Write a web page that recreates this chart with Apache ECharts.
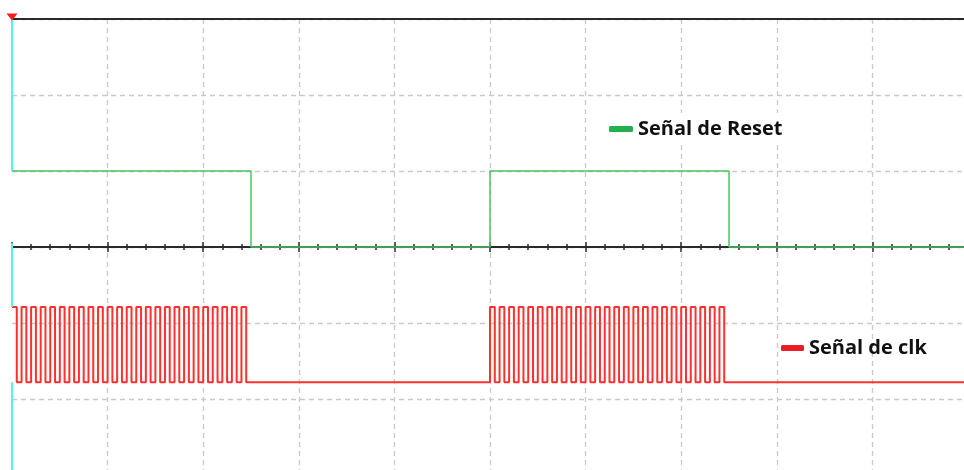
<!DOCTYPE html>
<html>
<head>
<meta charset="utf-8">
<script src="https://cdn.jsdelivr.net/npm/echarts@6/dist/echarts.min.js"></script>
<style>
  html, body { margin: 0; padding: 0; background: #ffffff; overflow: hidden; width: 964px; height: 470px; }
  /* the graticule runs slightly past the right and bottom edges of the screen */
  #scope { width: 968px; height: 475px; }
</style>
</head>
<body>
<div id="scope"></div>
<script>
// Time base: 10 horizontal divisions, 6 vertical divisions.
const timeRange = [0, 10];
const voltRange = [-3, 3];

// Reset trace: level changes (time in divisions, logic level).
const resetTimes  = [0, 2.5, 5, 7.5, 10];
const resetLevels = [1, 0, 1, 0, 0];

// Clock trace: logic level captured every clkSampleStep divisions
// (one row per division, 20 samples per row).
const clkSampleStep = 0.05;
const clkLevels = [
  1,0,1,0,1,0,1,0,1,0,1,0,1,0,1,0,1,0,1,0,
  1,0,1,0,1,0,1,0,1,0,1,0,1,0,1,0,1,0,1,0,
  1,0,1,0,1,0,1,0,1,0,0,0,0,0,0,0,0,0,0,0,
  0,0,0,0,0,0,0,0,0,0,0,0,0,0,0,0,0,0,0,0,
  0,0,0,0,0,0,0,0,0,0,0,0,0,0,0,0,0,0,0,0,
  1,0,1,0,1,0,1,0,1,0,1,0,1,0,1,0,1,0,1,0,
  1,0,1,0,1,0,1,0,1,0,1,0,1,0,1,0,1,0,1,0,
  1,0,1,0,1,0,1,0,1,0,0,0,0,0,0,0,0,0,0,0,
  0,0,0,0,0,0,0,0,0,0,0,0,0,0,0,0,0,0,0,0,
  0,0,0,0,0,0,0,0,0,0,0,0,0,0,0,0,0,0,0,0,
  0
];

// Legend names
const resetName = 'Señal de Reset';
const clkName = 'Señal de clk';

// Display placement of the clock trace (in divisions) below the center line.
const CLK_HIGH = -0.79;
const CLK_LOW = -1.78;

const resetData = resetTimes.map((t, i) => [t, resetLevels[i]]);
const clkData = clkLevels.map((v, i) => [i * clkSampleStep, v ? CLK_HIGH : CLK_LOW]);

const gridBox = { left: 12, top: 19, right: 0, bottom: 0 };
const dash = { color: '#c9c9c9', width: 1.3, type: [5, 4] };
const axisDark = { color: '#2a2a2a', width: 2 };

const chart = echarts.init(document.getElementById('scope'), null, { renderer: 'canvas' });

chart.setOption({
  animation: false,
  backgroundColor: '#ffffff',
  grid: [
    Object.assign({ show: false }, gridBox),
    Object.assign({ show: false }, gridBox)
  ],
  xAxis: [
    { // top frame line with vertical division lines
      gridIndex: 0, type: 'value', min: timeRange[0], max: timeRange[1], interval: 1,
      position: 'top', axisLine: { show: true, onZero: false, lineStyle: axisDark },
      axisTick: { show: false }, axisLabel: { show: false },
      splitLine: { show: true, showMinLine: false, lineStyle: dash }
    },
    { // center graticule line, ticks pointing up
      gridIndex: 0, type: 'value', min: timeRange[0], max: timeRange[1], interval: 1,
      position: 'bottom', axisLine: { show: true, onZero: true, lineStyle: axisDark },
      axisTick: { show: true, inside: true, length: 5, lineStyle: { color: '#2a2a2a', width: 1.5 } },
      minorTick: { show: true, splitNumber: 5, length: 3, lineStyle: { color: '#2a2a2a', width: 1.5 } },
      axisLabel: { show: false }, splitLine: { show: false }
    },
    { // center graticule line, ticks pointing down
      gridIndex: 1, type: 'value', min: timeRange[0], max: timeRange[1], interval: 1,
      position: 'bottom', axisLine: { show: true, onZero: true, lineStyle: axisDark },
      axisTick: { show: true, inside: false, length: 5, lineStyle: { color: '#2a2a2a', width: 1.5 } },
      minorTick: { show: true, splitNumber: 5, length: 3, lineStyle: { color: '#2a2a2a', width: 1.5 } },
      axisLabel: { show: false }, splitLine: { show: false }
    }
  ],
  yAxis: [
    {
      gridIndex: 0, type: 'value', min: voltRange[0], max: voltRange[1], interval: 1,
      axisLine: { show: false }, axisTick: { show: false }, axisLabel: { show: false },
      splitLine: { show: true, lineStyle: dash }
    },
    {
      gridIndex: 1, type: 'value', min: voltRange[0], max: voltRange[1], interval: 1,
      axisLine: { show: false }, axisTick: { show: false }, axisLabel: { show: false },
      splitLine: { show: false }
    }
  ],
  legend: [
    {
      data: [{ name: resetName, itemStyle: { color: '#22b14c' } }],
      left: 607, top: 113, padding: [6, 2],
      backgroundColor: '#ffffff',
      icon: 'roundRect', itemWidth: 24, itemHeight: 6,
      selectedMode: false,
      textStyle: { fontFamily: 'Open Sans', fontWeight: 'bold', fontSize: 20, color: '#111111' }
    },
    {
      data: [{ name: clkName, itemStyle: { color: '#ed1c24' } }],
      left: 779, top: 336, padding: [2, 2],
      icon: 'roundRect', itemWidth: 23, itemHeight: 6,
      selectedMode: false,
      textStyle: { fontFamily: 'Open Sans', fontWeight: 'bold', fontSize: 20, color: '#111111' }
    }
  ],
  series: [
    { // trigger cursor
      type: 'line', xAxisIndex: 0, yAxisIndex: 0, data: [], silent: true,
      markLine: {
        silent: true, symbol: 'none', animation: false,
        lineStyle: { color: '#55f2f2', width: 2, type: 'solid' },
        label: { show: false },
        data: [
          [{ coord: [0, 3] }, { coord: [0, 1] }],
          [{ coord: [0, 0.05] }, { coord: [0, CLK_HIGH] }],
          [{ coord: [0, CLK_LOW] }, { coord: [0, -3] }]
        ]
      },
      markPoint: {
        silent: true, animation: false,
        symbol: 'triangle', symbolRotate: 180, symbolSize: [11, 7], symbolOffset: [0, -2],
        itemStyle: { color: '#ff1a1a' }, label: { show: false },
        data: [{ coord: [0, 3] }]
      }
    },
    {
      name: resetName, type: 'line', xAxisIndex: 0, yAxisIndex: 0,
      step: 'end', symbol: 'none', data: resetData,
      lineStyle: { color: '#4cc46a', width: 1.5 },
      itemStyle: { color: '#4cc46a' }, z: 3
    },
    {
      name: clkName, type: 'line', xAxisIndex: 0, yAxisIndex: 0,
      step: 'end', symbol: 'none', data: clkData,
      lineStyle: { color: '#ff3030', width: 2 },
      itemStyle: { color: '#ff3030' }, z: 3
    }
  ]
});
</script>
</body>
</html>
